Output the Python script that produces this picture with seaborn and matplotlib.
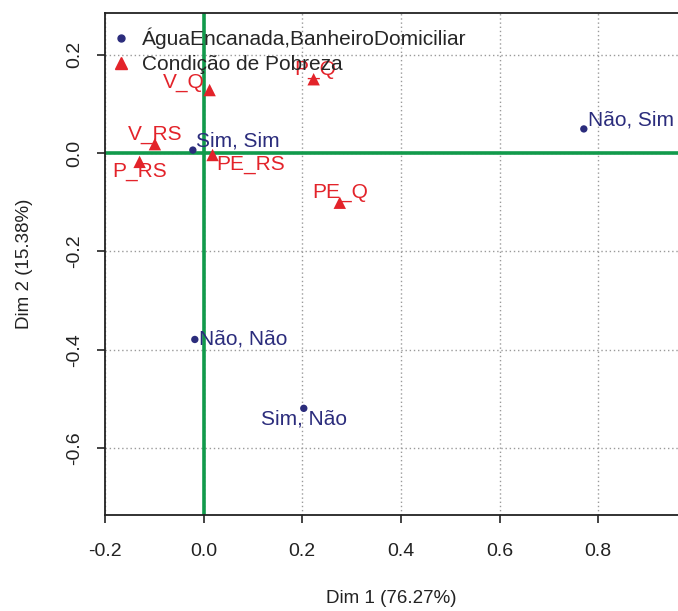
import matplotlib
matplotlib.use("Agg")
import matplotlib.pyplot as plt
import seaborn as sns
import pandas as pd
from matplotlib.lines import Line2D

# Data
row_labels = ["Sim, Sim", "Não, Sim", "Não, Não", "Sim, Não"]
row_x = [-0.022, 0.771, -0.018, 0.203]
row_y = [0.006, 0.049, -0.379, -0.519]

col_labels = ["V_Q", "P_Q", "V_RS", "P_RS", "PE_RS", "PE_Q"]
col_x = [0.012, 0.223, -0.099, -0.130, 0.018, 0.276]
col_y = [0.128, 0.150, 0.018, -0.018, -0.004, -0.101]

group_names = ["ÁguaEncanada,BanheiroDomiciliar", "Condição de Pobreza"]
x_ticks = [-0.2, 0.0, 0.2, 0.4, 0.6, 0.8]
y_ticks = [-0.6, -0.4, -0.2, 0.0, 0.2]
x_label = "Dim 1 (76.27%)"
y_label = "Dim 2 (15.38%)"

BLUE = "#2b2c7c"
RED = "#e3232a"
GREEN = "#119a4b"

sns.set_theme(style="white")
plt.rcParams["font.family"] = ["Liberation Sans", "DejaVu Sans"]

df = pd.concat([
    pd.DataFrame({"x": row_x, "y": row_y, "label": row_labels, "grupo": group_names[0]}),
    pd.DataFrame({"x": col_x, "y": col_y, "label": col_labels, "grupo": group_names[1]}),
], ignore_index=True)

fig = plt.figure(figsize=(6.78, 6.11), dpi=100)
ax = fig.add_axes([0.155, 0.157, 0.845, 0.822])

ax.set_xlim(-0.2, 0.962)
ax.set_ylim(-0.736, 0.285)

# grid
for xv in x_ticks:
    ax.axvline(xv, color="#9a9a9a", lw=1.0, ls=(0, (1, 2)), zorder=0)
for yv in y_ticks:
    ax.axhline(yv, color="#9a9a9a", lw=1.0, ls=(0, (1, 2)), zorder=0)
ax.axhline(0, color=GREEN, lw=2.6, zorder=1)
ax.axvline(0, color=GREEN, lw=2.6, zorder=1)

sns.scatterplot(data=df, x="x", y="y", hue="grupo", style="grupo",
                palette={group_names[0]: BLUE, group_names[1]: RED},
                markers={group_names[0]: "o", group_names[1]: "^"},
                size="grupo", sizes={group_names[0]: 28, group_names[1]: 80},
                edgecolor="none", linewidth=0, legend=False, ax=ax, zorder=3)

# label offsets in pixels (dx, dy, ha)
row_off = {"Sim, Sim": (3, 9, "left"), "Não, Sim": (4, 9, "left"),
           "Não, Não": (4, 0, "left"), "Sim, Não": (0, -11, "center")}
col_off = {"V_Q": (-5, 8, "right"), "P_Q": (2, 10, "center"), "V_RS": (0, 10, "center"),
           "P_RS": (0, -10, "center"), "PE_RS": (4, -10, "left"), "PE_Q": (0, 10, "center")}
px = 0.72
for lab, xv, yv in zip(row_labels, row_x, row_y):
    dx, dy, ha = row_off[lab]
    ax.annotate(lab, (xv, yv), xytext=(dx * px, dy * px), textcoords="offset points",
                ha=ha, va="center", color=BLUE, fontsize=15, zorder=4)
for lab, xv, yv in zip(col_labels, col_x, col_y):
    dx, dy, ha = col_off[lab]
    ax.annotate(lab, (xv, yv), xytext=(dx * px, dy * px), textcoords="offset points",
                ha=ha, va="center", color=RED, fontsize=15, zorder=4)

# axes styling
ax.set_xticks(x_ticks)
ax.set_xticklabels([f"{v:.1f}" for v in x_ticks], fontsize=14, color="#222222")
ax.set_yticks(y_ticks)
ax.set_yticklabels([f"{v:.1f}" for v in y_ticks], fontsize=14, color="#222222",
                   rotation=90, va="center")
ax.tick_params(axis="both", direction="out", length=6, width=1.2, color="#222222",
               bottom=True, left=True)
ax.tick_params(axis="x", pad=14)
ax.tick_params(axis="y", pad=10)
ax.set_xlabel(x_label, fontsize=13.5, color="#222222", labelpad=22)
ax.set_ylabel(y_label, fontsize=13.5, color="#222222", labelpad=24)
for s in ["left", "bottom", "top"]:
    ax.spines[s].set_visible(True)
    ax.spines[s].set_color("#222222")
    ax.spines[s].set_linewidth(1.3)
ax.spines["right"].set_visible(False)

handles = [Line2D([], [], marker="o", ls="none", color=BLUE, markersize=5),
           Line2D([], [], marker="^", ls="none", color=RED, markersize=9)]
ax.legend(handles, group_names, loc="upper left", frameon=False, fontsize=15,
          handletextpad=0.2, handlelength=1.6, labelspacing=0.28, borderaxespad=0.0,
          bbox_to_anchor=(-0.015, 0.987))

fig.savefig("out.png", dpi=100)
